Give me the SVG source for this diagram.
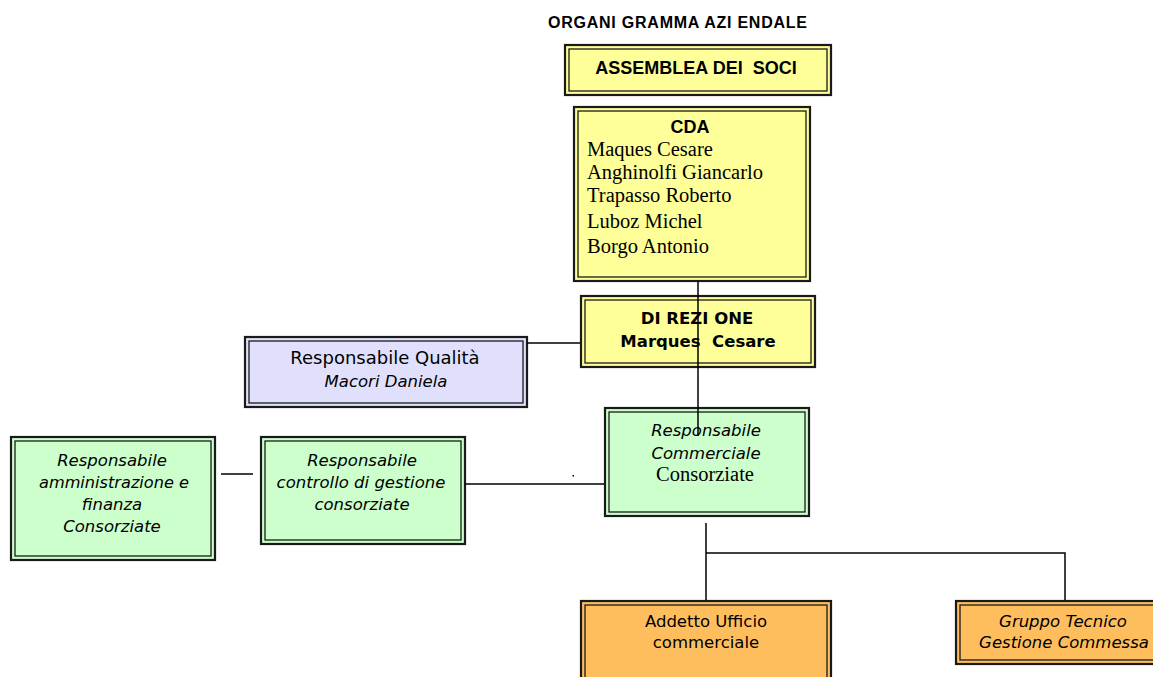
<svg xmlns="http://www.w3.org/2000/svg" width="1153" height="677" viewBox="0 0 1153 677">
<style>
.o{stroke:#1a1a1a;stroke-width:2.2}
.i{fill:none;stroke:#1a1a1a;stroke-width:1.3}
.y{fill:#ffff99}
.g{fill:#ccffcc}
.v{fill:#e0e0fc}
.r{fill:#ffbe5e}
.hb{font-family:"Liberation Sans",Arial,sans-serif;font-weight:bold;fill:#000}
.db{font-family:"DejaVu Sans",sans-serif;font-weight:bold;fill:#000}
.t{font-family:"DejaVu Sans",sans-serif;font-size:16.5px;fill:#000}
.it{font-style:italic}
.s{font-family:"Liberation Serif","Times New Roman",serif;font-size:20.5px;fill:#000}
.c{text-anchor:middle}
.ln{fill:none;stroke:#000;stroke-width:1.5}
</style>
<rect width="1153" height="677" fill="#fff"/>
<text class="hb" x="548" y="28" font-size="16" textLength="259" lengthAdjust="spacing">ORGANI GRAMMA AZI ENDALE</text>

<g id="assemblea">
<rect class="o y" x="565" y="45" width="266" height="50"/>
<rect class="i" x="569" y="49" width="258" height="42"/>
<text class="hb c" x="696" y="74" font-size="18" xml:space="preserve" style="white-space:pre">ASSEMBLEA DEI  SOCI</text>
</g>

<g id="cda">
<rect class="o y" x="574" y="107" width="236" height="174"/>
<rect class="i" x="578" y="111" width="228" height="166"/>
<text class="hb c" x="690" y="133" font-size="18">CDA</text>
<text class="s" x="587" y="156">Maques Cesare</text>
<text class="s" x="587" y="179">Anghinolfi Giancarlo</text>
<text class="s" x="587" y="202">Trapasso Roberto</text>
<text class="s" x="587" y="228">Luboz Michel</text>
<text class="s" x="587" y="253">Borgo Antonio</text>
</g>

<g id="direzione">
<rect class="o y" x="581" y="296" width="234" height="71"/>
<rect class="i" x="585" y="300" width="226" height="63"/>
<text class="db c" x="697" y="324" font-size="16.5" xml:space="preserve" style="white-space:pre">DI REZI ONE</text>
<text class="db c" x="698" y="347" font-size="16.5" xml:space="preserve" style="white-space:pre">Marques  Cesare</text>
</g>

<g id="qualita">
<rect class="o v" x="245" y="337" width="282" height="70"/>
<rect class="i" x="249" y="341" width="274" height="62"/>
<text class="t c" x="385" y="364" font-size="18" style="font-size:18px">Responsabile Qualità</text>
<text class="t it c" x="386" y="387">Macori Daniela</text>
</g>

<g id="commerciale">
<rect class="o g" x="605" y="408" width="204" height="108"/>
<rect class="i" x="609" y="412" width="196" height="100"/>
<text class="t it c" x="706" y="436">Responsabile</text>
<text class="t it c" x="706" y="459">Commerciale</text>
<text class="s c" x="705" y="481">Consorziate</text>
</g>

<g id="amministrazione">
<rect class="o g" x="11" y="437" width="204" height="123"/>
<rect class="i" x="15" y="441" width="196" height="115"/>
<text class="t it c" x="112" y="466">Responsabile</text>
<text class="t it c" x="114" y="488" textLength="150" lengthAdjust="spacingAndGlyphs">amministrazione e</text>
<text class="t it c" x="112" y="510">finanza</text>
<text class="t it c" x="112" y="532">Consorziate</text>
</g>

<g id="controllo">
<rect class="o g" x="261" y="437" width="204" height="107"/>
<rect class="i" x="265" y="441" width="196" height="99"/>
<text class="t it c" x="362" y="466">Responsabile</text>
<text class="t it c" x="361" y="488">controllo di gestione</text>
<text class="t it c" x="362" y="510">consorziate</text>
</g>

<g id="addetto">
<rect class="o r" x="581" y="601" width="250" height="100"/>
<rect class="i" x="585" y="605" width="242" height="100"/>
<text class="t c" x="706" y="627">Addetto Ufficio</text>
<text class="t c" x="706" y="648">commerciale</text>
</g>

<g id="gruppo">
<rect class="o r" x="956" y="601" width="220" height="63"/>
<rect class="i" x="960" y="605" width="212" height="55"/>
<text class="t it c" x="1063" y="627">Gruppo Tecnico</text>
<text class="t it c" x="1064" y="648">Gestione Commessa</text>
</g>

<g id="connectors">
<path class="ln" d="M698 281V436"/>
<path class="ln" d="M527 343H580"/>
<path class="ln" d="M221 474H253"/>
<path class="ln" d="M465 484H604"/>
<path class="ln" d="M706 523V600M706 553H1065V600"/>
<rect x="572.5" y="475" width="1.5" height="1.5" fill="#000"/>
</g>
</svg>
